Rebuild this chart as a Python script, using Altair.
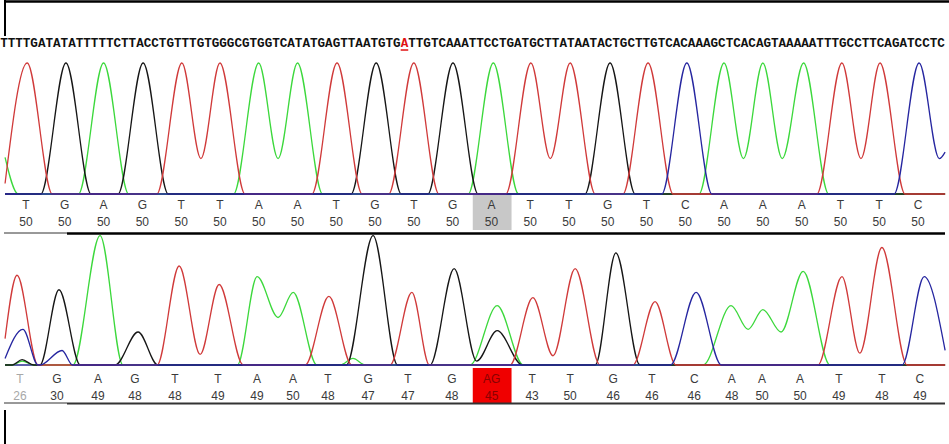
import altair as alt
import pandas as pd

# ---------------- sequence text (top line) ----------------
SEQ_LEFT = "TTTTGATATATTTTTCTTACCTGTTTGTGGGCGTGGTCATATGAGTTAATGTG"
SEQ_MUT = "A"
SEQ_RIGHT = "TTGTCAAATTCCTGATGCTTATAATACTGCTTGTCACAAAGCTCACAGTAAAAATTTGCCTTCAGATCCTC"

# ---------------- base calls ----------------
TOP_BASES = ["T", "G", "A", "G", "T", "T", "A", "A", "T", "G", "T", "G",
             "A", "T", "T", "G", "T", "C", "A", "A", "A", "T", "T", "C"]
TOP_QV = [50, 50, 50, 50, 50, 50, 50, 50, 50, 50, 50, 50,
          50, 50, 50, 50, 50, 50, 50, 50, 50, 50, 50, 50]
BOT_BASES = ["T", "G", "A", "G", "T", "T", "A", "A", "T", "G", "T", "G",
             "AG", "T", "T", "G", "T", "C", "A", "A", "A", "T", "T", "C"]
BOT_QV = [26, 30, 49, 48, 48, 49, 49, 50, 48, 47, 47, 48,
          45, 43, 50, 46, 46, 46, 48, 50, 50, 49, 48, 49]
BOT_POS = [-0.155, 0.80, 1.857, 2.811, 3.842, 4.951, 5.957, 6.885, 7.788, 8.82, 9.85, 10.98,
           12.01, 13.05, 14.03, 15.14, 16.14, 17.23, 18.2, 18.98, 19.96, 20.96, 22.07, 23.05]
HIGHLIGHT = 12

# ---------------- trace keypoints (x: base index, h: % of panel height) ----------------
TOP_A_X = [-0.54, -0.2, 1.35, 2.0, 2.65, 5.35, 6.0, 6.5, 7.0, 7.65, 11.4, 12.05, 12.7,
           17.35, 18.0, 18.5, 19.0, 19.5, 20.05, 20.7, 23.7]
TOP_A_H = [28, 0, 0, 100, 0, 0, 100, 27, 100, 0, 0, 100, 0,
           0, 100, 27, 100, 27, 100, 0, 0]
TOP_G_X = [-0.54, 0.38, 1.03, 1.68, 2.37, 3.02, 3.67, 8.38, 9.03, 9.68, 10.36, 11.01, 11.66,
           14.41, 15.06, 15.71, 23.7]
TOP_G_H = [0, 0, 100, 0, 0, 100, 0, 0, 100, 0, 0, 100, 0,
           0, 100, 0, 0]
TOP_T_X = [-0.54, 0.03, 0.68, 3.37, 4.02, 4.51, 5.0, 5.65, 7.37, 8.02, 8.67, 9.35, 10.0, 10.65,
           12.37, 13.02, 13.52, 14.03, 14.68, 15.39, 16.04, 16.69, 20.39, 21.04, 21.53, 22.02,
           22.67, 23.7]
TOP_T_H = [8, 100, 0, 0, 100, 27, 100, 0, 0, 100, 0, 0, 100, 0,
           0, 100, 27, 100, 0, 0, 100, 0, 0, 100, 27, 100,
           0, 0]
TOP_C_X = [-0.54, 16.39, 17.04, 17.69, 22.38, 23.03, 23.55, 23.7]
TOP_C_H = [0, 0, 100, 0, 0, 100, 27, 32]

BOT_A_X = [-0.54, -0.35, -0.1, 0.2, 1.21, 1.91, 2.5, 5.45, 5.96, 6.5, 6.89, 7.5, 8.1, 8.43, 8.75,
           11.45, 12.15, 12.82, 17.46, 18.18, 18.62, 19.0, 19.47, 20.04, 20.73, 23.7]
BOT_A_H = [0, 0, 3, 0, 0, 98, 0, 0, 67, 36, 55, 0, 0, 5, 0,
           0, 45, 0, 0, 45, 27, 42, 25, 71, 0, 0]
BOT_G_X = [-0.54, -0.35, -0.1, 0.2, 0.36, 0.85, 1.4, 2.3, 2.89, 3.4, 8.26, 8.95, 9.58,
           10.42, 11.04, 11.62, 12.15, 12.8, 14.68, 15.21, 15.83, 23.7]
BOT_G_H = [0, 0, 4, 0, 0, 57, 0, 0, 25, 0, 0, 98, 0,
           0, 73, 3, 26, 0, 0, 85, 0, 0]
BOT_T_X = [-0.54, -0.23, 0.31, 3.38, 3.95, 4.49, 4.98, 5.6, 7.2, 7.81, 8.4, 9.39, 9.95, 10.4,
           12.48, 13.07, 13.59, 14.16, 14.8, 15.65, 16.22, 16.76, 20.42, 21.04, 21.5, 22.07,
           22.72, 23.7]
BOT_T_H = [20, 68, 0, 0, 75, 8, 61, 0, 0, 52, 0, 0, 55, 0,
           0, 51, 7, 73, 0, 0, 48, 0, 0, 67, 9, 89,
           0, 0]
BOT_C_X = [-0.54, -0.08, 0.31, 0.36, 0.93, 1.2, 16.62, 17.28, 17.93, 22.59, 23.16, 23.7]
BOT_C_H = [5, 27, 0, 0, 11, 0, 0, 55, 0, 0, 67, 11]

COL_A, COL_G, COL_T, COL_C = "#3cd83c", "#161616", "#d03a3a", "#2626a0"

X_SCALE = alt.Scale(domain=[-0.6705, 23.80], nice=False, zero=False)
TOP_RANGE = [194, 63]
BOT_RANGE = [365, 233]
ONE = pd.DataFrame({"d": [0]})


def trace(xv, hv, color, rng):
    df = pd.DataFrame({"x": xv, "h": hv})
    return alt.Chart(df).mark_line(interpolate="monotone", color=color, strokeWidth=1.3).encode(
        x=alt.X("x:Q", scale=X_SCALE, axis=None),
        y=alt.Y("h:Q", scale=alt.Scale(domain=[0, 100], range=rng, nice=False, zero=False), axis=None),
    )


def hrule(x1, x2, y, color, w):
    return alt.Chart(ONE).mark_rule(color=color, strokeWidth=w).encode(
        x=alt.value(x1), x2=alt.value(x2), y=alt.value(y))


def vrule(x, y1, y2, color, w):
    return alt.Chart(ONE).mark_rule(color=color, strokeWidth=w).encode(
        x=alt.value(x), y=alt.value(y1), y2=alt.value(y2))


def box(y1, y2, color):
    df = pd.DataFrame({"x0": [HIGHLIGHT - 0.48], "x1": [HIGHLIGHT + 0.52]})
    return alt.Chart(df).mark_rect(color=color).encode(
        x=alt.X("x0:Q", scale=X_SCALE, axis=None), x2="x1:Q",
        y=alt.value(y1), y2=alt.value(y2))


def labels(pos, texts, colors, y, size=12):
    df = pd.DataFrame({"x": pos, "t": [str(t) for t in texts], "c": colors})
    return alt.Chart(df).mark_text(font="Liberation Sans", fontSize=size, baseline="middle",
                                   align="center").encode(
        x=alt.X("x:Q", scale=X_SCALE, axis=None), y=alt.value(y), text="t:N",
        color=alt.Color("c:N", scale=None))


top_idx = list(range(len(TOP_BASES)))
top_cols = ["#3a3a3a"] * len(TOP_BASES)
bot_cols = [("#a8a8a8" if q < 30 else ("#8a0000" if i == HIGHLIGHT else "#3a3a3a"))
            for i, q in enumerate(BOT_QV)]

# sequence text geometry (monospace)
FS = 12.6
CW = FS * 0.6
x_mut = len(SEQ_LEFT) * CW
seq_font = dict(font="Liberation Mono", fontSize=FS, fontWeight="bold", baseline="alphabetic")

seq_left = alt.Chart(ONE).mark_text(align="right", color="#111", **seq_font).encode(
    x=alt.value(x_mut), y=alt.value(47), text=alt.value(SEQ_LEFT))
seq_mut = alt.Chart(ONE).mark_text(align="left", color="#e01010", **seq_font).encode(
    x=alt.value(x_mut), y=alt.value(47), text=alt.value(SEQ_MUT))
seq_right = alt.Chart(ONE).mark_text(align="left", color="#111", **seq_font).encode(
    x=alt.value(x_mut + CW), y=alt.value(47), text=alt.value(SEQ_RIGHT))

layers = [
    # frame lines
    hrule(4, 949, 1.5, "#000", 2.5),
    vrule(5, 0, 36, "#000", 2),
    vrule(5, 410, 444, "#000", 2),
    # highlight boxes
    box(193, 230, "#c8c8c8"),
    box(368, 404, "#f00000"),
    # baselines
    hrule(5, 945, 194, "#5a5aa8", 1.5),
    hrule(5, 945, 365, "#2a2a90", 1.5),
    # top traces
    trace(TOP_A_X, TOP_A_H, COL_A, TOP_RANGE),
    trace(TOP_G_X, TOP_G_H, COL_G, TOP_RANGE),
    trace(TOP_T_X, TOP_T_H, COL_T, TOP_RANGE),
    trace(TOP_C_X, TOP_C_H, COL_C, TOP_RANGE),
    # bottom traces
    trace(BOT_A_X, BOT_A_H, COL_A, BOT_RANGE),
    trace(BOT_G_X, BOT_G_H, COL_G, BOT_RANGE),
    trace(BOT_T_X, BOT_T_H, COL_T, BOT_RANGE),
    trace(BOT_C_X, BOT_C_H, COL_C, BOT_RANGE),
    # label row separators
    hrule(4, 67, 233, "#333", 1),
    hrule(67, 945, 233.5, "#000", 2.5),
    hrule(4, 67, 403, "#333", 1),
    hrule(67, 945, 403.5, "#333", 1.8),
    # base labels
    labels(top_idx, TOP_BASES, top_cols, 205),
    labels(top_idx, TOP_QV, top_cols, 222),
    labels(BOT_POS, BOT_BASES, bot_cols, 379),
    labels(BOT_POS, BOT_QV, bot_cols, 396),
    # sequence
    seq_left, seq_mut, seq_right,
    hrule(x_mut, x_mut + CW, 50, "#e01010", 1.5),
]

chart = (
    alt.layer(*layers)
    .resolve_scale(y="independent")
    .properties(width=949, height=444, padding=0,
                autosize=alt.AutoSizeParams(type="none"), background="white")
    .configure_view(stroke=None)
)

chart.save("out.html", embed_options={"renderer": "svg", "actions": False})
